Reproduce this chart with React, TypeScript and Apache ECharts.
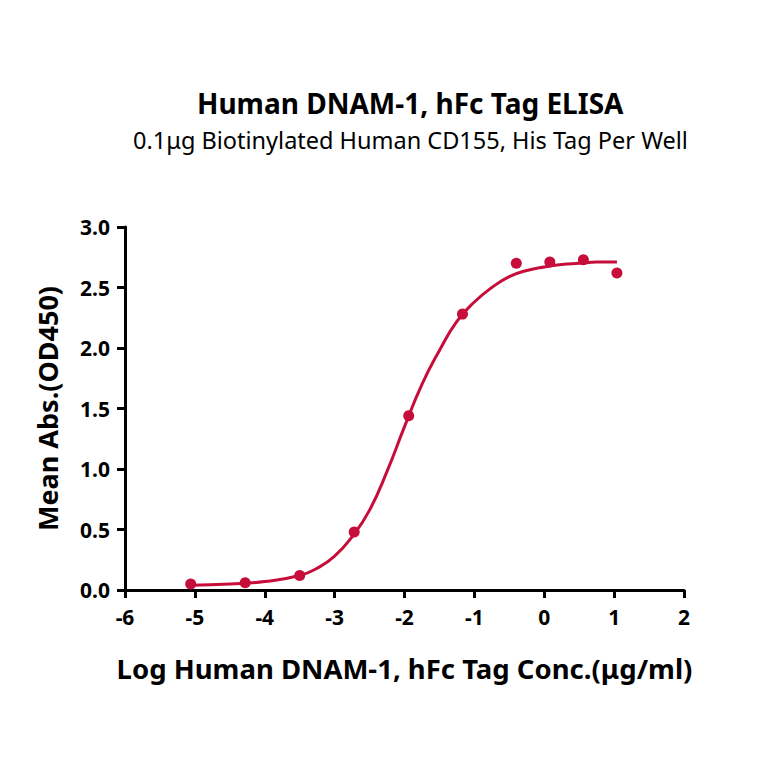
import React, { useEffect, useRef } from "react";
import * as echarts from "echarts";

const titleText = "Human DNAM-1, hFc Tag ELISA";
const subtitleText = "0.1μg Biotinylated Human CD155, His Tag Per Well";
const xAxisName = "Log Human DNAM-1, hFc Tag Conc.(μg/ml)";
const yAxisName = "Mean Abs.(OD450)";

// measured points (log conc, OD450)
const pointX = [-5.06, -4.28, -3.5, -2.72, -1.94, -1.17, -0.4, 0.08, 0.56, 1.04];
const pointY = [0.05, 0.06, 0.12, 0.48, 1.44, 2.28, 2.7, 2.71, 2.73, 2.62];

// fitted curve
const curveX = [-5.06, -4.5, -4.0, -3.5, -3.25, -3.0, -2.75, -2.5, -2.25, -2.0, -1.75, -1.5, -1.25, -1.0, -0.75, -0.5, -0.25, 0, 0.25, 0.5, 0.75, 1.04];
const curveY = [0.04, 0.05, 0.07, 0.12, 0.18, 0.28, 0.44, 0.66, 0.98, 1.35, 1.7, 1.98, 2.22, 2.38, 2.5, 2.59, 2.64, 2.67, 2.69, 2.7, 2.71, 2.71];

const COLOR = "#c70d3a";
const FONT = "Noto Sans";

export default function App() {
  const ref = useRef<HTMLDivElement>(null);
  useEffect(() => {
    document.body.style.margin = "0";
    const chart = echarts.init(ref.current!, null, { renderer: "svg" });
    chart.setOption({
      animation: false,
      backgroundColor: "#ffffff",
      title: [
        {
          text: titleText,
          left: 192,
          top: 84,
          textStyle: { fontFamily: FONT, fontWeight: "bold", fontSize: 28, color: "#000" },
        },
        {
          text: subtitleText,
          left: 128,
          top: 123,
          textStyle: { fontFamily: FONT, fontWeight: "normal", fontSize: 23.5, color: "#000" },
        },
      ],
      grid: { left: 125, right: 80, top: 227, bottom: 174, containLabel: false },
      xAxis: {
        type: "value",
        min: -6,
        max: 2,
        interval: 1,
        name: xAxisName,
        nameLocation: "middle",
        nameGap: 64,
        nameTextStyle: { fontFamily: FONT, fontWeight: "bold", fontSize: 27.5, color: "#000" },
        axisLine: { onZero: false, lineStyle: { color: "#000", width: 3 } },
        axisTick: { show: true, inside: false, length: 8, lineStyle: { color: "#000", width: 3 } },
        axisLabel: { fontFamily: FONT, fontWeight: "bold", fontSize: 21, color: "#000", margin: 16 },
        splitLine: { show: false },
      },
      yAxis: {
        type: "value",
        min: 0,
        max: 3,
        interval: 0.5,
        name: yAxisName,
        nameLocation: "middle",
        nameGap: 64,
        nameRotate: 90,
        nameTextStyle: { fontFamily: FONT, fontWeight: "bold", fontSize: 27, color: "#000" },
        axisLine: { show: true, onZero: false, lineStyle: { color: "#000", width: 3 } },
        axisTick: { show: true, inside: false, length: 8, lineStyle: { color: "#000", width: 3 } },
        axisLabel: {
          fontFamily: FONT,
          fontWeight: "bold",
          fontSize: 21,
          color: "#000",
          margin: 15,
          formatter: (v: number) => v.toFixed(1),
        },
        splitLine: { show: false },
      },
      series: [
        {
          type: "line",
          data: curveX.map((x, i) => [x, curveY[i]]),
          smooth: 0.5,
          showSymbol: false,
          symbol: "none",
          lineStyle: { color: COLOR, width: 3 },
          z: 2,
        },
        {
          type: "scatter",
          data: pointX.map((x, i) => [x, pointY[i]]),
          symbol: "circle",
          symbolSize: 11,
          itemStyle: { color: COLOR, opacity: 1 },
          z: 3,
        },
      ],
    });
    return () => chart.dispose();
  }, []);
  return <div ref={ref} style={{ width: 764, height: 764 }} />;
}
